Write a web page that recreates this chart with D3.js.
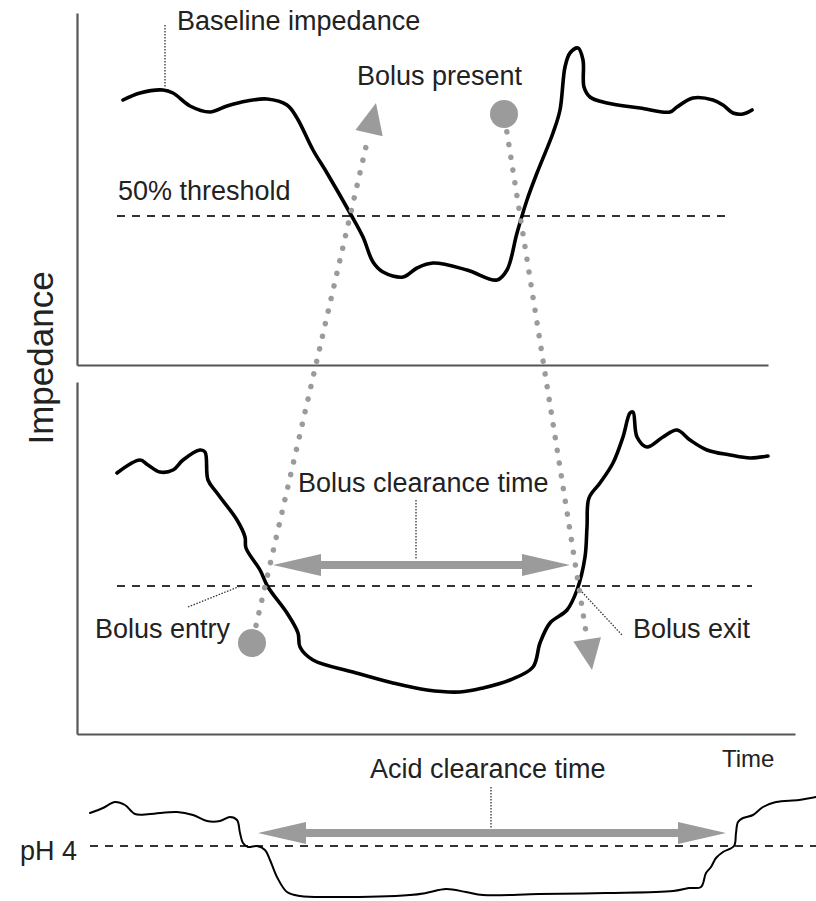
<!DOCTYPE html>
<html>
<head>
<meta charset="utf-8">
<script src="https://cdn.jsdelivr.net/npm/d3@7"></script>
<style>
  body { margin: 0; background: #fff; }
  text { font-family: "Liberation Sans", Arial, Helvetica, sans-serif; fill: #222; }
</style>
</head>
<body>
<div id="chart"></div>
<script>
// time in s, impedance in ohm, pH units
var topTime = [2.3, 3.15, 4.3, 4.8, 5.65, 6.65, 7.5, 8.5, 9.5, 10.5, 11.0, 11.8, 12.5, 13.65, 14.3, 14.8, 15.3, 16.3, 17.0, 17.8, 19.5, 21.0, 21.5, 22.0, 22.5, 23.0, 23.8, 24.15, 24.4, 24.65, 25.05, 25.3, 25.35, 25.65, 26.5, 28.15, 29.65, 30.0, 30.8, 31.8, 32.3, 32.8, 33.3, 33.75];
var topImp  = [2650, 2720, 2750, 2720, 2590, 2530, 2590, 2640, 2660, 2600, 2470, 2150, 1920, 1520, 1280, 1030, 930, 880, 970, 1020, 950, 850, 950, 1320, 1650, 1920, 2320, 2550, 2980, 3120, 3170, 3050, 2780, 2680, 2620, 2570, 2530, 2580, 2670, 2650, 2600, 2520, 2510, 2550];

var botTime = [2.0, 3.15, 3.55, 4.15, 4.8, 5.3, 6.15, 6.4, 6.55, 7.0, 8.0, 8.4, 8.45, 9.15, 9.55, 10.5, 11.05, 11.15, 11.8, 13.8, 15.8, 17.5, 19.15, 20.3, 21.65, 22.8, 23.15, 23.65, 24.5, 25.0, 25.4, 25.5, 25.6, 26.15, 26.8, 27.3, 27.65, 27.8, 28.0, 28.5, 29.3, 30.0, 30.65, 31.5, 32.65, 33.65, 34.55];
var botImp  = [2610, 2740, 2690, 2620, 2640, 2740, 2840, 2820, 2540, 2410, 2140, 1970, 1860, 1640, 1470, 1210, 1010, 870, 740, 620, 510, 440, 420, 460, 540, 670, 910, 1110, 1240, 1440, 1770, 2070, 2360, 2510, 2710, 2970, 3210, 3220, 2970, 2870, 2970, 3040, 2940, 2840, 2790, 2760, 2780];

var phTime = [0.65, 1.3, 1.9, 2.4, 2.9, 3.65, 5.0, 5.8, 6.5, 7.15, 7.65, 8.0, 8.15, 8.3, 8.55, 9.0, 9.4, 9.65, 10.0, 10.5, 11.15, 12.8, 16.65, 17.45, 18.45, 19.45, 20.3, 23.1, 26.45, 29.8, 30.6, 31.2, 31.45, 31.7, 31.95, 32.3, 32.85, 32.95, 33.05, 33.3, 33.8, 34.3, 34.95, 36.1, 36.95];
var phVal  = [5.65, 5.9, 6.2, 6.05, 5.6, 5.6, 5.7, 5.55, 5.25, 5.25, 5.45, 5.3, 4.65, 4.15, 3.95, 4.0, 3.8, 3.3, 2.45, 1.7, 1.5, 1.45, 1.55, 1.65, 1.85, 1.7, 1.55, 1.6, 1.65, 1.75, 1.9, 1.95, 2.65, 2.95, 3.4, 3.7, 4.0, 4.65, 5.2, 5.4, 5.55, 5.95, 6.2, 6.3, 6.45];

// thresholds: value, start, end
var thresholdTop = [1490, 2.0, 32.65];
var thresholdBot = [1480, 2.0, 33.75];
var phLimit = [4, 0.65, 36.95];

// clearance intervals: start, end, level
var bolusClearance = [9.8, 24.65, 1690];
var acidClearance = [9.05, 32.45, 4.65];

var svg = d3.select("#chart").append("svg")
  .attr("width", 816)
  .attr("height", 901);

var x = d3.scaleLinear().domain([0, 36]).range([77, 797]);
var yTop = d3.scaleLinear().domain([0, 3520]).range([365, 13]);
var yBot = d3.scaleLinear().domain([0, 3520]).range([734, 382]);
var yPH = d3.scaleLinear().domain([1, 7]).range([906, 786]);

var gray = "#9b9b9b";

// axes (no ticks, just the frame like the original)
function frame(yScale, tEnd) {
  var xs = x.copy().domain([0, tEnd]).range([x(0), x(tEnd)]);
  svg.append("g")
    .attr("transform", "translate(0," + yScale(0) + ")")
    .call(d3.axisBottom(xs).tickValues([]).tickSizeOuter(0));
  svg.append("g")
    .attr("transform", "translate(" + x(0) + ",0)")
    .call(d3.axisLeft(yScale).tickValues([]).tickSizeOuter(0));
}
frame(yTop, 34.55);
frame(yBot, 35.9);
svg.selectAll(".domain").attr("stroke", "#555").attr("stroke-width", 2.2);

// dashed threshold lines
function dashed(yScale, th) {
  svg.append("line")
    .attr("x1", x(th[1])).attr("x2", x(th[2]))
    .attr("y1", yScale(th[0])).attr("y2", yScale(th[0]))
    .attr("stroke", "#333")
    .attr("stroke-width", 2.2)
    .attr("stroke-dasharray", "8,7");
}
dashed(yTop, thresholdTop);
dashed(yBot, thresholdBot);
dashed(yPH, phLimit);

// traces
function trace(ts, vs, yScale, w) {
  var line = d3.line()
    .x(function(d) { return x(d[0]); })
    .y(function(d) { return yScale(d[1]); })
    .curve(d3.curveCatmullRom.alpha(0.5));
  svg.append("path")
    .datum(d3.zip(ts, vs))
    .attr("d", line)
    .attr("fill", "none")
    .attr("stroke", "#000")
    .attr("stroke-width", w)
    .attr("stroke-linejoin", "round")
    .attr("stroke-linecap", "round");
}
trace(topTime, topImp, yTop, 3.6);
trace(botTime, botImp, yBot, 3.6);
trace(phTime, phVal, yPH, 2);

// gray dotted arrows: bolus entry circle -> top, top circle -> bolus exit
var bolusPaths = [
  {from: [8.75, yBot, 910], to: [14.95, yTop, 2620]},
  {from: [21.35, yTop, 2510], to: [25.75, yBot, 640]}
];
bolusPaths.forEach(function(p) {
  var sx = x(p.from[0]), sy = p.from[1](p.from[2]);
  var tx = x(p.to[0]), ty = p.to[1](p.to[2]);
  var len = Math.hypot(tx - sx, ty - sy);
  var ux = (tx - sx) / len, uy = (ty - sy) / len;
  var headLen = 31, headHalf = 14, r = 14;
  svg.append("line")
    .attr("x1", sx + ux * (r + 4)).attr("y1", sy + uy * (r + 4))
    .attr("x2", tx - ux * (headLen + 6)).attr("y2", ty - uy * (headLen + 6))
    .attr("stroke", gray)
    .attr("stroke-width", 5.5)
    .attr("stroke-linecap", "round")
    .attr("stroke-dasharray", "0.1,12.8");
  var bx = tx - ux * headLen, by = ty - uy * headLen;
  svg.append("path")
    .attr("d", "M" + tx + "," + ty +
      "L" + (bx - uy * headHalf) + "," + (by + ux * headHalf) +
      "L" + (bx + uy * headHalf) + "," + (by - ux * headHalf) + "Z")
    .attr("fill", gray);
  svg.append("circle")
    .attr("cx", sx).attr("cy", sy).attr("r", r)
    .attr("fill", gray);
});

// thick double-headed arrows
function doubleArrow(t1, t2, yv) {
  var x1 = x(t1), x2 = x(t2), h = 4, hh = 11, hl = 48;
  var d = "M" + x1 + "," + yv +
    "L" + (x1 + hl) + "," + (yv - hh) + "L" + (x1 + hl) + "," + (yv - h) +
    "L" + (x2 - hl) + "," + (yv - h) + "L" + (x2 - hl) + "," + (yv - hh) +
    "L" + x2 + "," + yv +
    "L" + (x2 - hl) + "," + (yv + hh) + "L" + (x2 - hl) + "," + (yv + h) +
    "L" + (x1 + hl) + "," + (yv + h) + "L" + (x1 + hl) + "," + (yv + hh) + "Z";
  svg.append("path").attr("d", d).attr("fill", gray);
}
doubleArrow(bolusClearance[0], bolusClearance[1], yBot(bolusClearance[2]));
doubleArrow(acidClearance[0], acidClearance[1], yPH(acidClearance[2]));

// thin dotted leader lines
var leaders = [
  [4.4, 3400, 4.4, 2770, yTop],
  [16.95, 2340, 16.95, 1740, yBot],
  [5.55, 1270, 8.3, 1490, yBot],
  [25.25, 1420, 27.25, 990, yBot],
  [20.7, 6.95, 20.7, 4.9, yPH]
];
leaders.forEach(function(l) {
  svg.append("line")
    .attr("x1", x(l[0])).attr("y1", l[4](l[1]))
    .attr("x2", x(l[2])).attr("y2", l[4](l[3]))
    .attr("stroke", "#333")
    .attr("stroke-width", 1.3)
    .attr("stroke-dasharray", "1.5,1.5");
});

// labels
var labels = [
  ["Baseline impedance", 5.0, 3350, yTop, "start"],
  ["Bolus present", 14.0, 2800, yTop, "start"],
  ["50% threshold", 2.05, 1650, yTop, "start"],
  ["Bolus clearance time", 11.05, 2420, yBot, "start"],
  ["Bolus entry", 0.9, 960, yBot, "start"],
  ["Bolus exit", 27.8, 960, yBot, "start"],
  ["Time", 32.25, 7.95, yPH, "start"],
  ["Acid clearance time", 14.65, 7.4, yPH, "start"],
  ["pH 4", 0.0, 3.3, yPH, "end"]
];
svg.selectAll("text.lab")
  .data(labels)
  .enter()
  .append("text")
  .attr("class", "lab")
  .attr("x", function(d) { return x(d[1]); })
  .attr("y", function(d) { return d[3](d[2]); })
  .attr("text-anchor", function(d) { return d[4]; })
  .attr("font-size", function(d) { return d[0] == "Time" ? "24px" : "27px"; })
  .text(function(d) { return d[0]; });

// rotated axis title, centred a little above the top panel's base line
svg.append("text")
  .attr("transform", "translate(53," + yTop(70) + ") rotate(-90)")
  .attr("text-anchor", "middle")
  .attr("font-size", "35px")
  .text("Impedance");
</script>
</body>
</html>
